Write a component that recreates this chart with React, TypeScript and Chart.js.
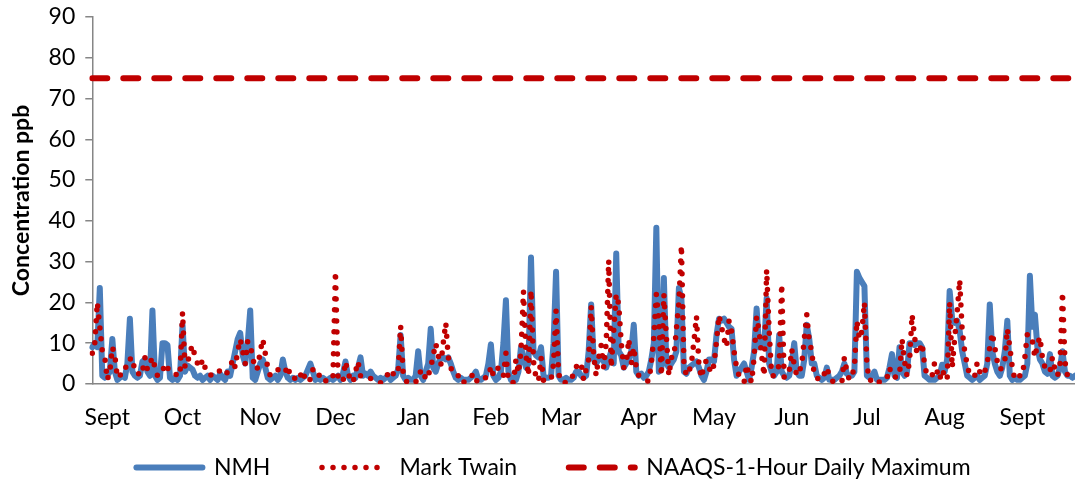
import React, { useEffect, useRef } from "react";
import { Chart, registerables } from "chart.js";

Chart.register(...registerables);

// Month tick labels and the day index (from first reading) where each month starts
const monthNames = ["Sept", "Oct", "Nov", "Dec", "Jan", "Feb", "Mar", "Apr", "May", "Jun", "Jul", "Aug", "Sept"];
const monthStartIdx = [6, 36, 67, 97, 128, 159, 187, 218, 248, 279, 309, 340, 371];

// NMH daily 1-hour maximum (ppb)
const nmh = [
  9, 10, 9, 23.5, 2, 1.5, 2, 3, 11, 3,
  1, 1.5, 2, 1.5, 5, 16, 3, 2, 1.5, 2,
  5.5, 6, 3, 2, 18, 2, 1, 1.5, 10, 10,
  9.5, 1.5, 1, 1.5, 1, 2, 14.5, 3, 4.5, 4,
  3.5, 2, 1.5, 2, 1, 1.5, 2, 1, 2, 1.5,
  1, 2.5, 1.5, 1, 3, 2, 5, 8, 11, 12.5,
  7, 5, 10, 18, 1.5, 1, 3, 5, 6, 4,
  1.5, 1, 1.5, 2, 1, 2, 6, 3, 1.5, 1,
  1.5, 1, 1.5, 1, 1.5, 2, 3.5, 5, 3, 1,
  1.5, 1, 1.5, 1, 1, 1.5, 1, 1.5, 2, 1,
  2.5, 5.5, 2, 1, 2, 1.5, 4, 6.5, 2, 2.5,
  2, 3, 2, 1.5, 1, 1.5, 1, 1.5, 2, 1,
  1.5, 2, 3.5, 12, 2, 1, 1.5, 1, 1, 2,
  8, 2, 1, 3, 5, 13.5, 4, 3, 5, 6.5,
  6.5, 6, 6.5, 5, 3, 1.5, 1, 1.5, 1, 1,
  1, 1.5, 2, 3, 1, 1, 1.5, 2, 5, 9.7,
  2, 1, 1.5, 3, 10, 20.5, 3, 1, 1.5, 1,
  3, 9, 6.5, 4, 5, 31, 8, 7, 6.5, 9,
  2, 1.5, 1.5, 2, 10, 27.5, 2, 1, 1, 1.5,
  1, 1, 1.5, 3, 3, 2, 1.5, 2, 8, 19.5,
  6, 5, 6, 6.5, 5.5, 4, 6, 8, 5, 32,
  8, 7, 4, 5, 6, 8, 14.5, 3, 2, 2.5,
  1.5, 2, 3, 6, 10, 38.3, 3, 4, 26, 5,
  4, 5, 6, 8, 23.5, 21, 3, 2.5, 4, 4.5,
  5, 5.5, 4, 2, 1, 3, 6, 6, 5.5, 12,
  16, 15.5, 16, 15, 14, 13.5, 6, 2, 3, 4,
  5, 3, 1, 4, 8, 18.5, 9, 10, 9, 21,
  5, 3, 2, 3, 12, 3, 2, 1.5, 2, 5,
  10, 3, 2, 2, 6, 14.5, 11, 5, 5, 2,
  1.5, 1, 1.5, 4, 1, 1, 1, 1.5, 2, 3,
  5, 2.5, 2, 2, 3, 27.5, 26, 25, 24, 2,
  1.5, 2, 3, 1, 1, 1, 1, 1.5, 4, 7.3,
  2, 1.5, 9, 3, 2, 3, 10, 10, 9.5, 10,
  10, 9, 2, 1.5, 1, 1, 1, 1.5, 2, 4.7,
  3, 6, 22.8, 16, 15, 15.5, 13, 8, 5, 2,
  1.5, 1, 1.5, 2, 1, 1.5, 2, 5, 19.5, 8,
  5, 3, 2, 4, 8, 15.5, 2, 1, 1.5, 1,
  1, 1.5, 2, 5, 26.5, 14, 17, 9, 6, 5,
  3, 2.5, 7.3, 2, 1.5, 2, 4, 8, 3, 2,
  2, 1.5, 2,
];

// Mark Twain daily 1-hour maximum (ppb)
const markTwain = [
  7.5, 10, 20, 14, 8, 6.5, 1, 3, 9, 7,
  1.5, 2, 3, 3, 6, 6, 6.5, 3, 3, 2,
  3, 6.5, 3.5, 5, 6.5, 4, 2, 2, 3, 5,
  4, 3, 2.5, 2.5, 2, 2, 17.5, 4, 5, 8,
  9.5, 6.5, 5, 4, 6, 4, 3, 2, 2.5, 3,
  3.5, 3, 2.5, 2, 3, 4, 6, 4, 8, 11,
  8, 5, 10.5, 9.5, 6.5, 3.5, 4, 8, 11, 7.5,
  4, 2, 2.5, 3, 3.5, 3, 2.5, 3, 4.5, 1.8,
  2, 1.2, 0.7, 2, 3.3, 0.8, 1.5, 1, 3.5, 2.5,
  1.7, 2.5, 1.5, 0.8, 0.5, 1, 1.5, 27.6, 2, 1,
  0.4, 5.5, 2.8, 1, 0.3, 3, 5.5, 2, 1.5, 1.5,
  1.5, 1.3, 1.3, 1, 0.5, 0.3, 0.5, 1.5, 2.5, 3.5,
  2.5, 2, 3, 14.2, 2.6, 0.8, 0.3, 0.5, 0.5, 0.3,
  2.6, 3, 3.5, 1, 2, 4, 7, 10, 7, 4.5,
  10, 15, 6.5, 4, 2.5, 2.5, 2, 2, 0.3, 1,
  1.5, 1.5, 2.6, 1, 0.4, 1, 1.5, 1.5, 1.5, 4.3,
  2, 3, 4, 3, 2, 7.5, 0.6, 0.5, 0.3, 6,
  2.6, 8, 22.7, 7, 2, 23, 5.5, 1.5, 0.7, 6.5,
  0.8, 0.7, 0.7, 1, 5, 18, 2.6, 0.4, 0.4, 0.3,
  0.3, 1, 2.5, 4.3, 4, 5, 1, 3.5, 6, 19,
  7, 2, 6.5, 9.5, 4, 10, 30.3, 4, 13, 22,
  19.5, 10, 4, 5, 11, 5, 9, 4, 2, 1.5,
  1, 0.8, 0.7, 5, 11.5, 22, 15.5, 2, 22, 11.5,
  2, 6.5, 6.5, 13.5, 20, 34, 5, 2, 3, 5,
  10.5, 16.6, 4.5, 1.5, 4.5, 5.8, 4, 2.7, 4.7, 10.5,
  16.8, 14, 11, 9, 15.5, 13, 8, 4, 2, 1,
  0.4, 4.7, 2, 0.4, 6.5, 16.5, 13, 7, 2, 28,
  13, 2, 2, 3, 4.7, 24.5, 1.5, 2, 3, 8.5,
  4.7, 2, 3, 4.7, 11, 17, 10.5, 8, 2, 1.5,
  1, 1, 2.5, 4, 2, 0.7, 0.5, 0.5, 0.5, 0.4,
  6.5, 3, 1, 2, 4, 15.5, 11, 13, 20, 4.7,
  0.8, 1, 1.5, 1, 0.4, 0.4, 1, 1.5, 4, 2,
  1.5, 2, 2, 11, 5.5, 2, 5.5, 17, 11.5, 7.3,
  8, 10, 4.7, 2, 2, 2, 5.2, 3, 1, 3.5,
  2, 1, 20, 4, 11, 17.6, 25.5, 13, 8, 4.7,
  2, 2, 2, 5.2, 3, 2, 3, 5.2, 9, 12.5,
  9, 5.5, 3.5, 4, 5.5, 13.5, 9, 4, 1, 1.5,
  2, 2, 6.5, 12.3, 11, 10.5, 6.5, 9.6, 11.5, 6.5,
  4, 3, 3, 6.5, 3.5, 2, 4.3, 22.5, 5.5, 2,
  2, 1.5, 1.5,
];

// NAAQS 1-hour standard (ppb)
const naaqsLimit = 75;

const yTicks = { min: 0, max: 90, step: 10 };

const legendShift = {
  id: "legendShift",
  afterLayout(chart: any) {
    if (chart.legend) {
      chart.legend.left += 14;
      chart.legend.right += 14;
    }
  },
};

export default function App() {
  const canvasRef = useRef<HTMLCanvasElement | null>(null);

  useEffect(() => {
    if (!canvasRef.current) return;
    const n = nmh.length;
    const labels = Array.from({ length: n }, (_, i) => {
      const k = monthStartIdx.indexOf(i);
      return k >= 0 ? monthNames[k] : "";
    });
    const naaqs = labels.map(() => naaqsLimit);
    const FONT = "Lato, 'Noto Sans', sans-serif";

    const chart = new Chart(canvasRef.current, {
      type: "line",
      data: {
        labels,
        datasets: [
          {
            label: "NMH",
            data: nmh,
            borderColor: "#4a7ebb",
            backgroundColor: "#4a7ebb",
            borderWidth: 6,
            pointRadius: 0,
            tension: 0,
            borderJoinStyle: "round",
            borderCapStyle: "round",
            order: 2,
          },
          {
            label: "Mark Twain",
            data: markTwain,
            borderColor: "#c00000",
            backgroundColor: "#c00000",
            borderWidth: 5.5,
            borderDash: [0, 11],
            borderCapStyle: "round",
            borderJoinStyle: "round",
            pointRadius: 0,
            tension: 0,
            order: 1,
          },
          {
            label: "NAAQS-1-Hour Daily Maximum",
            data: naaqs,
            borderColor: "#c00000",
            backgroundColor: "#c00000",
            borderWidth: 6,
            borderDash: [15, 16],
            borderCapStyle: "round",
            pointRadius: 0,
            order: 0,
          },
        ],
      },
      options: {
        animation: false,
        responsive: true,
        maintainAspectRatio: false,
        layout: { padding: { top: 0, left: 4, right: 0, bottom: 0 } },
        plugins: {
          tooltip: { enabled: false },
          legend: {
            position: "bottom",
            labels: {
              usePointStyle: true,
              pointStyle: "line",
              pointStyleWidth: 66,
              color: "#000",
              font: { family: FONT, size: 23 },
              padding: 4.5,
              generateLabels: (ch: any) =>
                ch.data.datasets.map((ds: any, i: number) => ({
                  text: i < ch.data.datasets.length - 1 ? ds.label + "        " : ds.label,
                  fillStyle: ds.borderColor,
                  strokeStyle: ds.borderColor,
                  lineWidth: ds.borderWidth,
                  lineDash: ds.borderDash || [],
                  lineDashOffset: 0,
                  lineCap: ds.borderCapStyle || "butt",
                  lineJoin: "round",
                  pointStyle: "line",
                  fontColor: "#000",
                  hidden: false,
                  datasetIndex: i,
                })),
            },
          },
        },
        scales: {
          x: {
            type: "category",
            grid: { display: false, drawTicks: false },
            border: { display: true, color: "#868686", width: 1.5 },
            ticks: {
              autoSkip: false,
              maxRotation: 0,
              minRotation: 0,
              padding: 20,
              color: "#000",
              font: { family: FONT, size: 23 },
            },
            afterFit: (s: any) => {
              s.paddingRight = 0;
            },
          },
          y: {
            min: yTicks.min,
            max: yTicks.max,
            grid: {
              display: true,
              drawOnChartArea: false,
              drawTicks: true,
              tickLength: 7,
              color: "#868686",
              lineWidth: 1.5,
            },
            border: { display: true, color: "#868686", width: 1.5 },
            ticks: {
              stepSize: yTicks.step,
              padding: 10,
              color: "#000",
              font: { family: FONT, size: 23 },
            },
            title: {
              display: true,
              text: "Concentration ppb",
              color: "#000",
              font: { family: FONT, size: 23, weight: "bold" },
              padding: { top: 4, bottom: 3 },
            },
            afterFit: (s: any) => {
              s.paddingTop = 17;
            },
          },
        },
      },
      plugins: [legendShift],
    });
    return () => chart.destroy();
  }, []);

  return (
    <div style={{ position: "absolute", left: 0, top: 0, width: 1075, height: 489, background: "#fff" }}>
      <canvas ref={canvasRef} />
    </div>
  );
}
